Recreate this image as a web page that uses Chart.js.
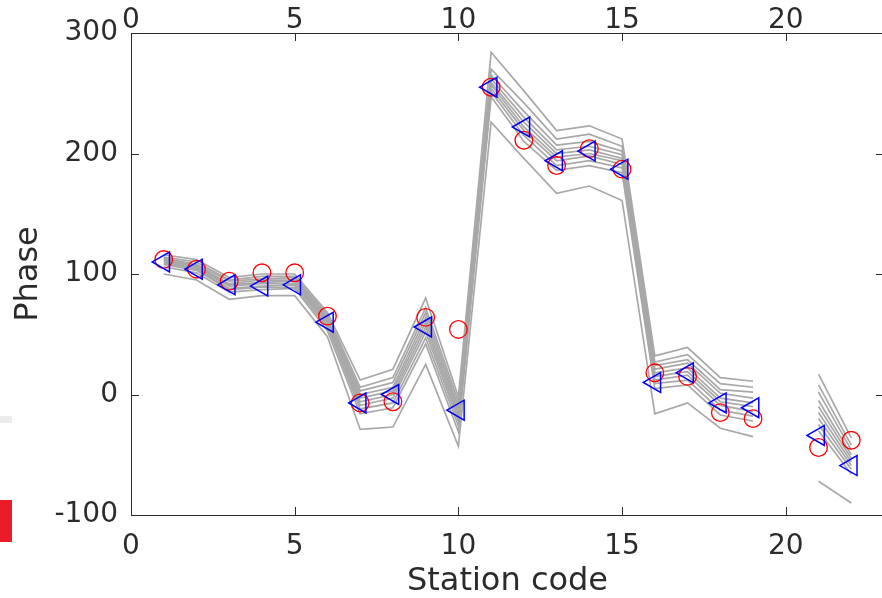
<!DOCTYPE html>
<html>
<head>
<meta charset="utf-8">
<title>Phase by station</title>
<script src="https://cdn.jsdelivr.net/npm/chart.js@4.4.1/dist/chart.umd.min.js"></script>
<style>
    html, body { margin: 0; padding: 0; background: #fff; overflow: hidden; }
    #wrap { position: relative; width: 882px; height: 598px; overflow: hidden; }
    #phaseChart { position: absolute; left: 0; top: 0; }
    .edge { position: absolute; left: 0; width: 12px; }
</style>
</head>
<body>
<div id="wrap">
    <canvas id="phaseChart" width="900" height="598"></canvas>
    <div class="edge" style="top:416px;height:7px;background:#ececec"></div>
    <div class="edge" style="top:500px;height:42px;background:#ea1c2a"></div>
</div>
<script>
// Stations 1..22 (station 20 has no data)
const stations = [1, 2, 3, 4, 5, 6, 7, 8, 9, 10, 11, 12, 13, 14, 15, 16, 17, 18, 19, 20, 21, 22];

// Measured phase (circles)
const observed = [112, 104, 94, 101, 101, 65, -7, -6, 64, 54, 255, 211, 190, 204, 187, 18, 15, -15, -20, null, -44, -38];

// Best model phase (triangles)
const predicted = [110, 104, 91, 90, 91, 60, -7, 0, 56, -13, 255, 222, 194, 202, 187, 10, 18, -7, -11, null, -34, -59];

// Ensemble of model runs (grey lines)
const ensemble = [
    [116, 112, 97, 100, 100, 68, 12, 21, 80, -2, 284, 252, 219, 223, 212, 32, 39, 14, 11, null, 17, -36],
    [114, 110, 95, 98, 98, 66, 6, 14, 72, -6, 270, 242, 212, 216, 206, 27, 33, 9, 6, null, 8, -42],
    [113, 108, 94, 96, 97, 64, 3, 10, 68, -10, 265, 235, 207, 210, 202, 24, 29, 4, 2, null, 2, -46],
    [112, 107, 92, 95, 95, 63, 0, 6, 64, -13, 262, 230, 203, 206, 199, 21, 26, 1, -3, null, -5, -50],
    [111, 106, 91, 93, 94, 61, -3, 3, 60, -16, 259, 226, 200, 203, 196, 18, 22, -3, -7, null, -10, -53],
    [110, 105, 90, 92, 92, 60, -6, 0, 56, -19, 257, 222, 197, 200, 194, 15, 19, -6, -10, null, -15, -56],
    [109, 104, 88, 90, 91, 58, -9, -3, 52, -22, 254, 219, 194, 198, 191, 12, 16, -9, -14, null, -20, -59],
    [108, 103, 87, 89, 89, 56, -12, -7, 47, -26, 251, 215, 190, 194, 188, 9, 12, -13, -18, null, -25, -62],
    [106, 101, 85, 87, 88, 53, -16, -11, 42, -31, 247, 210, 186, 190, 184, 5, 8, -17, -22, null, -30, -66],
    [100, 95, 79, 82, 82, 48, -29, -27, 25, -43, 226, 196, 167, 173, 161, -16, -7, -28, -35, null, -72, -90]
];

const xTicks = [0, 5, 10, 15, 20];
const yTicks = [-100, 0, 100, 200, 300];

const FONT = "'DejaVu Sans', sans-serif";
const AXIS_COLOR = '#2b2b2b';

function toPoints(values) {
    return stations.map((s, i) => ({ x: s, y: values[i] }));
}

// Box around the plot with inward tick marks on all four sides
const frameTicks = {
    id: 'frameTicks',
    afterDatasetsDraw(chart) {
        const { ctx, chartArea: a, scales } = chart;
        const len = 8;
        ctx.save();
        ctx.strokeStyle = AXIS_COLOR;
        ctx.lineWidth = 1;
        ctx.beginPath();
        ctx.rect(Math.round(a.left) + 0.5, Math.round(a.top) + 0.5,
                 Math.round(a.right - a.left), Math.round(a.bottom - a.top));
        scales.x.ticks.forEach(t => {
            const px = Math.round(scales.x.getPixelForValue(t.value)) + 0.5;
            ctx.moveTo(px, a.bottom); ctx.lineTo(px, a.bottom - len);
            ctx.moveTo(px, a.top); ctx.lineTo(px, a.top + len);
        });
        scales.y.ticks.forEach(t => {
            const py = Math.round(scales.y.getPixelForValue(t.value)) + 0.5;
            ctx.moveTo(a.left, py); ctx.lineTo(a.left + len, py);
            ctx.moveTo(a.right, py); ctx.lineTo(a.right - len, py);
        });
        ctx.stroke();
        ctx.restore();
    }
};

const datasets = [
    {
        label: 'Model',
        data: toPoints(predicted),
        showLine: false,
        pointStyle: 'triangle',
        pointRotation: 270,
        pointRadius: 11.5,
        pointBorderWidth: 1.5,
        pointBorderColor: '#0000ff',
        pointBackgroundColor: 'rgba(0,0,0,0)',
        order: 0
    },
    {
        label: 'Observed',
        data: toPoints(observed),
        showLine: false,
        pointStyle: 'circle',
        pointRadius: 8.8,
        pointBorderWidth: 1.3,
        pointBorderColor: '#ff0000',
        pointBackgroundColor: 'rgba(0,0,0,0)',
        order: 1
    }
];

ensemble.forEach((run, i) => {
    datasets.push({
        label: 'Run ' + (i + 1),
        data: toPoints(run),
        borderColor: '#a8a8a8',
        borderWidth: 1.7,
        pointRadius: 0,
        spanGaps: false,
        tension: 0,
        order: 2
    });
});

const tickFont = { family: FONT, size: 28 };

new Chart(document.getElementById('phaseChart'), {
    type: 'line',
    data: { datasets: datasets },
    options: {
        responsive: false,
        animation: false,
        events: [],
        layout: { padding: { left: 0, top: 0, right: 16, bottom: 0 } },
        plugins: {
            legend: { display: false },
            tooltip: { enabled: false }
        },
        scales: {
            x: {
                type: 'linear',
                position: 'bottom',
                min: 0,
                max: 23,
                afterBuildTicks: s => { s.ticks = xTicks.map(v => ({ value: v })); },
                afterFit: s => { s.height = 83; },
                grid: { display: false, drawTicks: false },
                border: { display: false },
                ticks: { font: tickFont, color: AXIS_COLOR, padding: 15, maxRotation: 0, autoSkip: false },
                title: {
                    display: true,
                    text: 'Station code',
                    color: AXIS_COLOR,
                    font: { family: FONT, size: 32, lineHeight: 1 },
                    padding: { top: 0, bottom: 0 }
                }
            },
            x2: {
                type: 'linear',
                position: 'top',
                min: 0,
                max: 23,
                afterBuildTicks: s => { s.ticks = xTicks.map(v => ({ value: v })); },
                afterFit: s => { s.height = 33; },
                grid: { display: false, drawTicks: false },
                border: { display: false },
                ticks: { font: tickFont, color: AXIS_COLOR, padding: -5, maxRotation: 0, autoSkip: false }
            },
            y: {
                type: 'linear',
                position: 'left',
                min: -100,
                max: 300,
                afterBuildTicks: s => { s.ticks = yTicks.map(v => ({ value: v })); },
                afterFit: s => { s.width = 131; },
                grid: { display: false, drawTicks: false },
                border: { display: false },
                ticks: { font: tickFont, color: AXIS_COLOR, padding: 13 },
                title: {
                    display: true,
                    text: 'Phase',
                    color: AXIS_COLOR,
                    font: { family: FONT, size: 32, lineHeight: 1 },
                    padding: { top: 13, bottom: 0 }
                }
            }
        }
    },
    plugins: [frameTicks]
});
</script>
</body>
</html>
